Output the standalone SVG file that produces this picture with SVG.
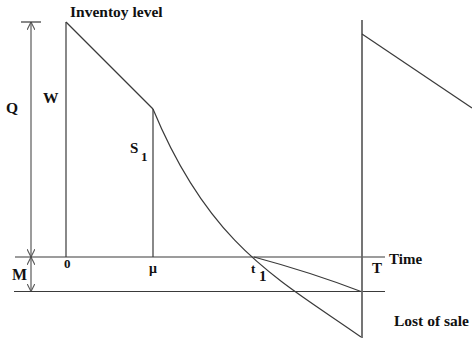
<svg xmlns="http://www.w3.org/2000/svg" width="472" height="341" viewBox="0 0 472 341">
<defs>
<style>
.ln{fill:none;stroke:#3a3a3a;stroke-width:1.2}
.gl{fill:none;stroke:#666;stroke-width:1.8}
.dim{fill:none;stroke:#5a5a5a;stroke-width:1.2}
.t{font-family:"Liberation Serif","Times New Roman",serif;font-weight:bold;fill:#111}
</style>
<marker id="ah" viewBox="0 0 10 10" refX="10" refY="5" markerWidth="8" markerHeight="8" markerUnits="userSpaceOnUse" orient="auto-start-reverse">
<path d="M0,0 L10,5 L0,10" fill="none" stroke="#5a5a5a" stroke-width="1.4"/>
</marker>
</defs>
<rect width="472" height="341" fill="#fff"/>
<g id="connectors">
<line class="dim" x1="31" y1="22" x2="31" y2="257" marker-start="url(#ah)" marker-end="url(#ah)"/>
<line class="dim" x1="31" y1="257" x2="31" y2="291.5" marker-start="url(#ah)" marker-end="url(#ah)"/>
<line class="ln" x1="21" y1="22" x2="41" y2="22"/>
</g>
<g id="axes">
<line class="ln" x1="15" y1="257" x2="385" y2="257"/>
<line class="ln" x1="14" y1="291.5" x2="385" y2="291.5"/>
</g>
<g id="inventory">
<line class="ln" x1="66" y1="22" x2="66" y2="257"/>
<line class="ln" x1="66" y1="22" x2="153" y2="109"/>
<line class="ln" x1="153" y1="109" x2="153" y2="257"/>
<path class="ln" d="M153,109 C210,247 280,280 361,337"/>
<path class="ln" d="M254,257 Q310,272 361,291.5"/>
<line class="gl" x1="362" y1="20" x2="362" y2="338"/>
<line class="ln" x1="362" y1="34" x2="472" y2="108"/>
</g>
<g id="labels">
<text class="t" x="70" y="17" font-size="15.5">Inventoy level</text>
<text class="t" x="6" y="113" font-size="15.5">Q</text>
<text class="t" x="43" y="103" font-size="15.5">W</text>
<text class="t" x="130" y="153" font-size="15">S</text>
<text class="t" x="141" y="161" font-size="13">1</text>
<text class="t" x="64" y="268" font-size="13">0</text>
<text class="t" x="149" y="273" font-size="14">μ</text>
<text class="t" x="251" y="273" font-size="13">t</text>
<text class="t" x="259" y="281" font-size="15">1</text>
<text class="t" x="372" y="273" font-size="15">T</text>
<text class="t" x="389" y="264" font-size="15">Time</text>
<text class="t" x="12" y="280" font-size="16">M</text>
<text class="t" x="394" y="326" font-size="15.5">Lost of sale</text>
</g>
</svg>
